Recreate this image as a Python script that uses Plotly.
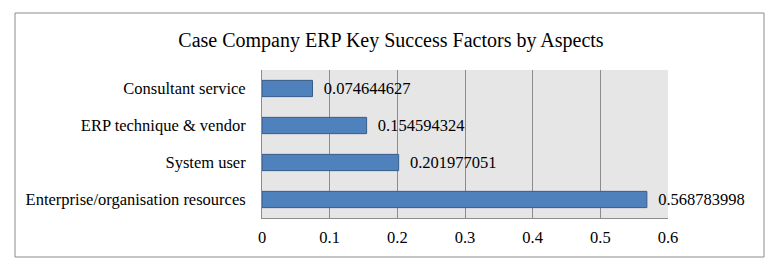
import plotly.graph_objects as go

categories = ["Enterprise/organisation resources", "System user", "ERP technique & vendor", "Consultant service"]
values = [0.568783998, 0.201977051, 0.154594324, 0.074644627]
value_labels = ["0.568783998", "0.201977051", "0.154594324", "0.074644627"]
tick_vals = [0, 0.1, 0.2, 0.3, 0.4, 0.5, 0.6]
tick_text = ["0", "0.1", "0.2", "0.3", "0.4", "0.5", "0.6"]
title = "Case Company ERP Key Success Factors by Aspects"

FONT = "Liberation Serif, Times New Roman, serif"
PAD = "\u00a0\u00a0"

# page has an 8px body margin; figure coords = page coords - 8
OFF = 8
W, H = 782 - 2 * OFF, 270 - 2 * OFF
L, R, T, B = 262 - OFF, 668 - OFF, 70 - OFF, 218 - OFF
pw, ph = R - L, B - T

def px(x):
    return (x - OFF - L) / pw

def py(y):
    return (B - (y - OFF)) / ph

fig = go.Figure(go.Bar(
    x=values, y=categories, orientation="h",
    marker=dict(color="#4F81BD", line=dict(color="#385D8A", width=1)),
    text=[PAD + t for t in value_labels], textposition="outside", cliponaxis=False,
    constraintext="none",
    textfont=dict(family=FONT, size=16.5, color="#000"),
))

fig.update_layout(
    width=W, height=H,
    margin=dict(l=L, r=W - R, t=T, b=H - B, autoexpand=False),
    paper_bgcolor="white", plot_bgcolor="#E6E6E6",
    font=dict(family=FONT, size=16.5, color="#000"),
    title=dict(text=title, x=0.5, xref="container", xanchor="center",
               y=1 - (40 - OFF) / H, yanchor="middle", yref="container",
               font=dict(family=FONT, size=20, color="#000")),
    bargap=0.56,
    showlegend=False,
    xaxis=dict(range=[0, 0.6], tickvals=tick_vals, ticktext=tick_text,
               showgrid=True, gridcolor="#8C8C8C", gridwidth=1,
               zeroline=False, showline=True, linecolor="#8C8C8C",
               ticks="outside", ticklen=4, tickcolor="rgba(0,0,0,0)",
               tickfont=dict(family=FONT, size=16.5), automargin=False),
    yaxis=dict(showgrid=False, zeroline=False, showline=True, linecolor="#8C8C8C",
               ticks="outside", ticklen=12, tickcolor="rgba(0,0,0,0)",
               tickfont=dict(family=FONT, size=16.5), automargin=False),
    shapes=[dict(type="rect", xref="paper", yref="paper",
                 x0=px(15), x1=px(764), y0=py(257), y1=py(13),
                 line=dict(color="#8C8C8C", width=1), layer="below")],
)

fig.write_html("out.html")
